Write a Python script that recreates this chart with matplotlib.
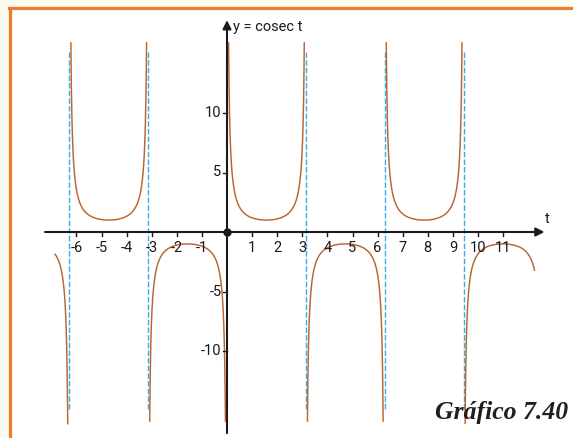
import numpy as np
import matplotlib.pyplot as plt
from matplotlib.patches import Rectangle
from matplotlib.lines import Line2D

# graph of y = cosec t
t_start, t_end = -6.85, 12.25
y_clip = 16.2
asymptotes = [-2 * np.pi, -np.pi, np.pi, 2 * np.pi, 3 * np.pi]
xticks = [-6, -5, -4, -3, -2, -1, 1, 2, 3, 4, 5, 6, 7, 8, 9, 10, 11]
yticks = [10, 5, -5, -10]

curve_color = '#b8652f'
dash_color = '#3aaee2'
border_color = '#f07a30'
num_font = ['Roboto', 'DejaVu Sans']

fig = plt.figure(figsize=(5.73, 4.38), dpi=100)
fig.patch.set_facecolor('#fbfbef')
# white panel + orange frame
fig.patches.append(Rectangle((10 / 573, 0), 1, 1 - 8 / 438, transform=fig.transFigure,
                             facecolor='white', edgecolor='none', zorder=-5))
fig.lines.append(Line2D([9.5 / 573, 9.5 / 573], [0, 1 - 8 / 438], transform=fig.transFigure,
                        color=border_color, lw=2.3, zorder=-4))
fig.lines.append(Line2D([8.5 / 573, 1], [1 - 8 / 438, 1 - 8 / 438], transform=fig.transFigure,
                        color=border_color, lw=2.3, zorder=-4))

ax = fig.add_axes([0, 0, 1, 1])
ax.set_facecolor('none')
ax.set_xlim(-227 / 25.1, 346 / 25.1)
ax.set_ylim(-206 / 11.9, 232 / 11.9)
ax.axis('off')

# branches between multiples of pi
k_lo = int(np.floor(t_start / np.pi))
k_hi = int(np.floor(t_end / np.pi))
for k in range(k_lo, k_hi + 1):
    a = max(k * np.pi, t_start)
    b = min((k + 1) * np.pi, t_end)
    t = np.linspace(a + 1e-4, b - 1e-4, 1500)
    y = 1 / np.sin(t)
    keep = np.abs(y) <= y_clip
    ax.plot(t[keep], y[keep], color=curve_color, lw=1.05, zorder=3)

for a in asymptotes:
    ax.plot([a, a], [15.1, -15.0], color=dash_color, lw=1.0,
            linestyle=(0, (4, 1.5)), zorder=2)

# axes with arrows
ax.annotate('', xy=(12.65, 0), xytext=(-7.25, 0),
            arrowprops=dict(arrowstyle='-|>,head_length=0.5,head_width=0.25',
                            color='#1a1a1a', lw=1.5, shrinkA=0, shrinkB=0), zorder=4)
ax.annotate('', xy=(0, 17.8), xytext=(0, -16.9),
            arrowprops=dict(arrowstyle='-|>,head_length=0.5,head_width=0.25',
                            color='#1a1a1a', lw=1.5, shrinkA=0, shrinkB=0), zorder=4)
ax.plot(0, 0, 'o', color='#1a1a1a', ms=5, zorder=5)

for v in xticks:
    ax.plot([v, v], [0, -0.34], color='#1a1a1a', lw=1.0, zorder=4)
    ax.text(v, -1.35, str(v), ha='center', va='center', fontsize=10.5,
            family=num_font, color='#1a1a1a')
for v in yticks:
    ax.plot([-0.16, 0], [v, v], color='#1a1a1a', lw=1.0, zorder=4)
    ax.text(-0.22, v, str(v), ha='right', va='center', fontsize=10.5,
            family=num_font, color='#1a1a1a')

ax.text(0.24, 17.25, 'y = cosec t', ha='left', va='center', fontsize=10.5,
        family=num_font, color='#1a1a1a')
ax.text(12.67, 1.1, 't', ha='left', va='center', fontsize=10.5,
        family=num_font, color='#1a1a1a')
ax.text(13.59, -15.2, 'Gráfico 7.40', ha='right', va='center', fontsize=18.5,
        family=['Liberation Serif', 'DejaVu Serif'], fontweight='bold',
        fontstyle='italic', color='#231f20')

fig.savefig('out.png', dpi=100, facecolor=fig.get_facecolor())
